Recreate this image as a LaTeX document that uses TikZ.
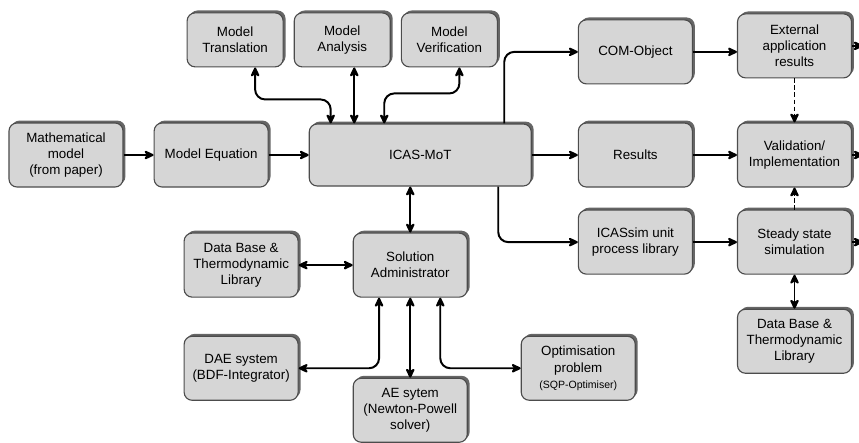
\documentclass[tikz,border=0pt]{standalone}
\usepackage{fontspec}
\setmainfont{Liberation Sans}
\usetikzlibrary{arrows.meta,positioning,shadows}

\begin{document}
\begin{tikzpicture}[
	font=\fontsize{9.5}{11.5}\selectfont,
	>={Stealth[round, length=3mm, width=2.8mm]},
	node distance=0.5cm,
	blk/.style={rectangle, rounded corners=2mm, draw=black!70, fill=black!16, thick, minimum width=2.85cm, minimum height=1.6cm, align=center, inner sep=1pt, drop shadow={shadow xshift=0.6mm, shadow yshift=0.6mm, fill=black!60, opacity=1}},
	blkp/.style={blk, minimum width=2.4cm, minimum height=1.35cm},
	seta/.style={->, line width=1.4pt, black, rounded corners=2.5mm},
	setad/.style={seta, <->},
	setap/.style={seta, dash pattern=on 3pt off 2pt},
]
\useasboundingbox (0,0) rectangle (21.475,-11.05);
% Linha principal
\node[blk] (math) at (1.65,-3.875) {Mathematical\\model\\(from paper)};
\node[blk] (eq) [right=0.75cm of math] {Model Equation};
\node[blk, minimum width=5.55cm, minimum height=1.55cm] (mot) [right=1.0cm of eq] {ICAS-MoT};
% Ferramentas do modelo
\node[blkp] (ana) [above=1.4cm of mot, xshift=-1.95cm] {Model\\Analysis};
\node[blkp] (tra) [left=0.25cm of ana] {Model\\Translation};
\node[blkp] (ver) [right=0.25cm of ana] {Model\\Verification};
% Saidas
\node[blk] (res) [right=1.15cm of mot] {Results};
\node[blk] (com) [above=0.95cm of res] {COM-Object};
\node[blk] (sim) [below=0.55cm of res] {ICASsim unit\\process library};
\node[blk] (val) [right=1.1cm of res] {Validation/\\Implementation};
\node[blk] (ext) [above=1.1cm of val] {External\\application\\results};
\node[blk] (sst) [below=0.55cm of val] {Steady state\\simulation};
\node[blk] (dbr) [below=0.85cm of sst] {Data Base \&\\Thermodynamic\\Library};
% Resolvedores
\node[blk] (sol) [below=1.15cm of mot, xshift=-0.25cm] {Solution\\Administrator};
\node[blk] (ae) [below=2.0cm of sol] {AE sytem\\(Newton-Powell\\solver)};
\node[blk] (dbl) [left=1.35cm of sol] {Data Base \&\\Thermodynamic\\Library};
\node[blk] (dae) [below=0.95cm of dbl] {DAE system\\(BDF-Integrator)};
\node[blk] (opt) [right=5.55cm of dae] {Optimisation\\problem\\{\fontsize{7.5}{9}\selectfont (SQP-Optimiser)}};
% Setas
\draw[seta] (math) -- (eq);
\draw[seta] (eq) -- (mot);
\draw[setad] ([xshift=0.5cm]tra.south) -- ++(0,-0.8) -| ([xshift=0.55cm]mot.north west);
\draw[setad] ([xshift=0.3cm]ana.south) -- ++(0,-1.4);
\draw[setad] ([xshift=0.25cm]ver.south) -- ++(0,-0.65) -| ([xshift=-0.9cm]mot.north);
\draw[seta] ([xshift=2.1cm]mot.north) |- (com);
\draw[seta] (mot) -- (res);
\draw[seta] ([xshift=1.95cm]mot.south) |- (sim);
\draw[setad] (sol.north) -- (sol.north |- mot.south);
\draw[setad] (dbl) -- (sol);
\draw[setad] ([xshift=-0.78cm]sol.south) |- (dae);
\draw[setad] (sol) -- (ae);
\draw[setad] ([xshift=0.75cm]sol.south) |- (opt);
\draw[seta] (com.east) -- (com.east -| ext.west);
\draw[seta] (res) -- (val);
\draw[seta] (sim) -- (sst);
\draw[seta] (ext.east) -- ++(0.27,0);
\draw[seta] (val.east) -- ++(0.27,0);
\draw[seta] (sst.east) -- ++(0.27,0);
\draw[setap] (ext) -- (val);
\draw[setap] (sst) -- (val);
\draw[setad] (sst) -- (dbr);
\end{tikzpicture}
\end{document}
